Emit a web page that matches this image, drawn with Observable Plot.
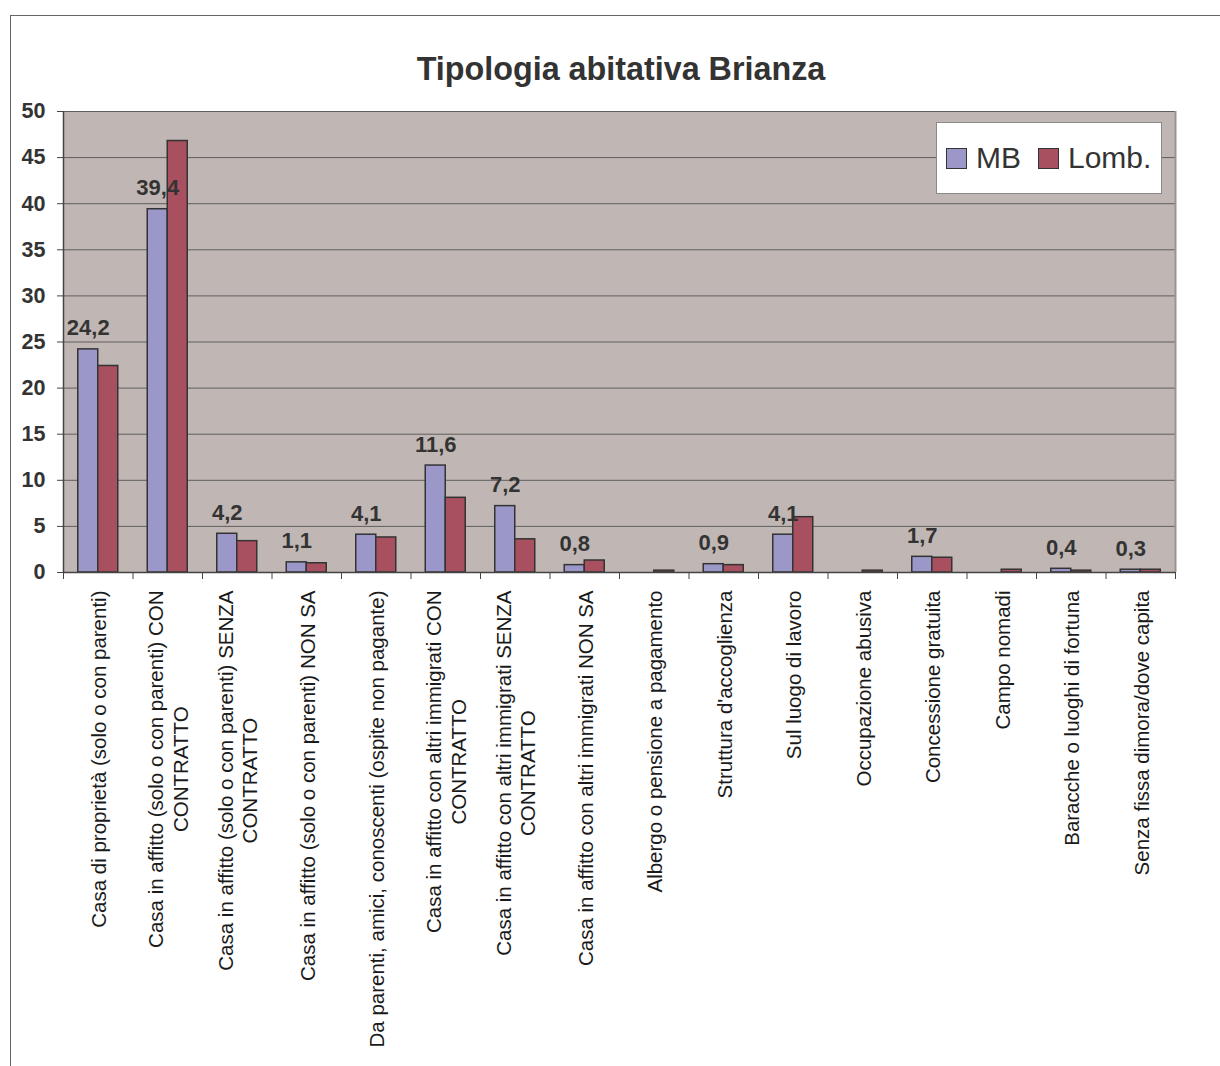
<!DOCTYPE html>
<html>
<head>
<meta charset="utf-8">
<script src="https://cdn.jsdelivr.net/npm/d3@7"></script>
<script src="https://cdn.jsdelivr.net/npm/@observablehq/plot@0.6"></script>
<style>
  html, body { margin: 0; padding: 0; background: #fff; }
  #page { position: relative; width: 1220px; height: 1066px; overflow: hidden;
          font-family: "Liberation Sans", Arial, sans-serif; }
  #border { position: absolute; left: 10px; top: 15px; width: 1300px; height: 1200px;
            border-left: 1px solid #666; border-top: 1px solid #666; }
  #chart { position: absolute; left: 0; top: 0; }
  #title { position: absolute; left: 0; top: 53px; width: 1242px; text-align: center;
           font-size: 32.3px; font-weight: bold; color: #333; line-height: 1; }
  #legend { position: absolute; left: 936px; top: 122px; width: 226px; height: 72px;
            background: #fff; border: 1px solid #8a8a8a; box-sizing: border-box;
            display: flex; align-items: center; padding-left: 9px; }
  .item { display: flex; align-items: center; font-size: 30px; color: #333; margin-right: 17px; }
  .sw { width: 21px; height: 21px; border: 1.5px solid #333; margin-right: 9px; box-sizing: border-box; }
</style>
</head>
<body>
<div id="page">
  <div id="border"></div>
  <div id="chart"></div>
  <div id="title">Tipologia abitativa Brianza</div>
  <div id="legend"></div>
</div>
<script>
// Housing types: share (%) for Monza-Brianza (MB) and Lombardy (Lomb.)
const categories = [
  "Casa di proprietà (solo o con parenti)",
  "Casa in affitto (solo o con parenti) CON\nCONTRATTO",
  "Casa in affitto (solo o con parenti) SENZA\nCONTRATTO",
  "Casa in affitto (solo o con parenti) NON SA",
  "Da parenti, amici, conoscenti (ospite non pagante)",
  "Casa in affitto con altri immigrati CON\nCONTRATTO",
  "Casa in affitto con altri immigrati SENZA\nCONTRATTO",
  "Casa in affitto con altri immigrati NON SA",
  "Albergo o pensione a pagamento",
  "Struttura d'accoglienza",
  "Sul luogo di lavoro",
  "Occupazione abusiva",
  "Concessione gratuita",
  "Campo nomadi",
  "Baracche o luoghi di fortuna",
  "Senza fissa dimora/dove capita"
];
const mbValues   = [24.2, 39.4, 4.2, 1.1, 4.1, 11.6, 7.2, 0.8, 0, 0.9, 4.1, 0, 1.7, 0, 0.4, 0.3];
const lombValues = [22.4, 46.8, 3.4, 1.0, 3.8, 8.1, 3.6, 1.3, 0.2, 0.8, 6.0, 0.2, 1.6, 0.3, 0.2, 0.3];
const seriesNames = ["MB", "Lomb."];
const seriesColors = ["#9c97c9", "#a8505f"];
const yTicks = [0, 5, 10, 15, 20, 25, 30, 35, 40, 45, 50];

const W = 1220, H = 1066;
const mL = 63, mR = 45, mT = 111, mB = 494;
const step = (W - mL - mR) / categories.length;
const barW = 20;

const mbRows = categories.map((c, i) => ({cat: c, v: mbValues[i]})).filter(d => d.v > 0);
const lombRows = categories.map((c, i) => ({cat: c, v: lombValues[i]})).filter(d => d.v > 0);
const fmt = v => v.toLocaleString("it-IT");

const barStyle = {stroke: "#333", strokeWidth: 1.5};
const last = categories[categories.length - 1];

const chart = Plot.plot({
  width: W, height: H,
  marginLeft: mL, marginRight: mR, marginTop: mT, marginBottom: mB,
  style: {fontFamily: "'Liberation Sans', Arial, sans-serif", background: "transparent", overflow: "visible"},
  x: {domain: categories, padding: 0, round: false, axis: null, label: null},
  y: {domain: [0, 50], axis: null, label: null},
  marks: [
    Plot.frame({fill: "#c0b7b4", stroke: null}),
    Plot.gridY(yTicks, {stroke: "#5e5e5e", strokeOpacity: 1, strokeWidth: 1}),
    Plot.ruleX([last], {dx: step / 2, stroke: "#9a9391", strokeWidth: 2}),
    Plot.barY(mbRows, {x: "cat", y: "v", fill: seriesColors[0], ...barStyle,
      insetLeft: step / 2 - barW, insetRight: step / 2}),
    Plot.barY(lombRows, {x: "cat", y: "v", fill: seriesColors[1], ...barStyle,
      insetLeft: step / 2, insetRight: step / 2 - barW}),
    Plot.ruleY([0], {stroke: "#444", strokeWidth: 1.5}),
    Plot.ruleX([categories[0]], {dx: -step / 2, stroke: "#444", strokeWidth: 1.5}),
    Plot.axisY({ticks: yTicks, tickSize: 6, tickPadding: 12, fontSize: 21.5, fontWeight: "bold",
      fill: "#333", stroke: "#444", tickFormat: d => d, label: null}),
    Plot.axisX({tickSize: 7, fill: "none", stroke: "#444", dx: -step / 2, label: null}),
    Plot.axisX([last], {tickSize: 7, fill: "none", stroke: "#444", dx: step / 2, label: null}),
    Plot.axisX({tickSize: 0, tickPadding: 18, tickRotate: -90, textAnchor: "end",
      fontSize: 20.5, lineHeight: 1.2, fill: "#1a1a1a", lineWidth: Infinity, label: null}),
    Plot.text(mbRows, {x: "cat", y: "v", text: d => fmt(d.v), dx: -barW / 2, dy: -21,
      fontSize: 22, fontWeight: "bold", fill: "#333"})
  ]
});
document.getElementById("chart").appendChild(chart);

// Center the two-line category labels on each other
chart.querySelectorAll('g[aria-label="x-axis tick label"] text').forEach(t => {
  const spans = t.querySelectorAll("tspan");
  if (spans.length < 2) return;
  let maxLen = 0;
  spans.forEach(s => { maxLen = Math.max(maxLen, s.getComputedTextLength()); });
  t.setAttribute("text-anchor", "middle");
  spans.forEach(s => s.setAttribute("x", -maxLen / 2));
});

// Legend
const legend = document.getElementById("legend");
seriesNames.forEach((name, i) => {
  const item = document.createElement("div");
  item.className = "item";
  const sw = document.createElement("div");
  sw.className = "sw";
  sw.style.background = seriesColors[i];
  item.appendChild(sw);
  item.appendChild(document.createTextNode(name));
  legend.appendChild(item);
});
</script>
</body>
</html>
